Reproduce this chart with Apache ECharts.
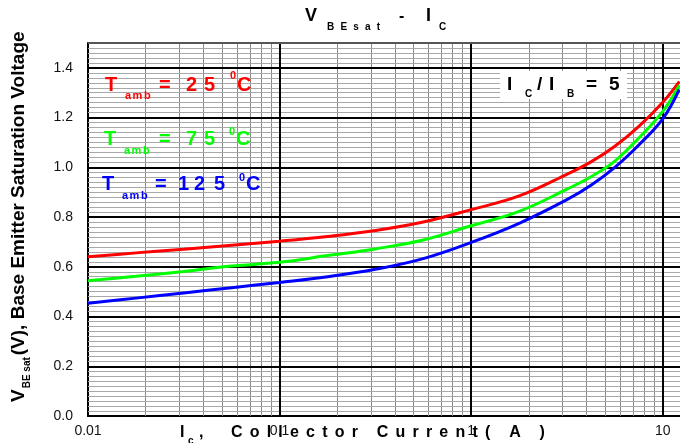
<!DOCTYPE html>
<html><head><meta charset="utf-8">
<script src="https://cdn.jsdelivr.net/npm/echarts@6/dist/echarts.min.js"></script>
<style>html,body{margin:0;padding:0;background:#fff}#c{width:680px;height:443px}</style>
</head><body><div id="c"></div>
<script>
// ---- data ----
const currentA = [0.01, 0.0178, 0.0316, 0.0562, 0.1, 0.178, 0.316, 0.562, 1, 1.78, 3.16, 4.22, 5.62, 7.5, 10, 12.2];
const vbe25  = [0.640, 0.656, 0.671, 0.687, 0.703, 0.722, 0.746, 0.780, 0.830, 0.885, 0.972, 1.022, 1.085, 1.165, 1.262, 1.345];
const vbe75  = [0.544, 0.562, 0.581, 0.603, 0.618, 0.645, 0.672, 0.708, 0.765, 0.823, 0.912, 0.962, 1.025, 1.118, 1.225, 1.330];
const vbe125 = [0.453, 0.474, 0.495, 0.516, 0.537, 0.560, 0.590, 0.633, 0.698, 0.775, 0.870, 0.928, 1.000, 1.090, 1.195, 1.313];
const xTickLabels = ['0.01', '0.1', '1', '10'];
const yTickLabels = ['0.0', '0.2', '0.4', '0.6', '0.8', '1.0', '1.2', '1.4'];

const FONT = '"Liberation Sans", Arial, sans-serif';
const ctx = document.createElement('canvas').getContext('2d');
function mw(t, size) { ctx.font = 'bold ' + size + 'px ' + FONT; return ctx.measureText(t).width; }
function T(t, x, cy, size, color) {
  return { type: 'text', x: x, y: cy, z: 100,
    style: { text: t, font: 'bold ' + size + 'px ' + FONT, fill: color || '#000',
      align: 'left', verticalAlign: 'middle', textAlign: 'left', textVerticalAlign: 'middle' } };
}
function tracked(str, x, cy, size, color, tr) {
  const out = []; let cx = x;
  for (const ch of str) { if (ch !== ' ') out.push(T(ch, cx, cy, size, color)); cx += mw(ch, size) + tr; }
  return out;
}

// grid line positions (axis structure)
const xMax = 12.3, yMax = 1.5;
const vMinor = [], vMajor = [0.1, 1, 10];
[0.01, 0.1, 1, 10].forEach(d => { for (let k = 2; k <= 9; k++) { const v = +(d * k).toPrecision(3); if (v < xMax) vMinor.push(v); } });
const hMinor = [], hMajor = [];
for (let i = 1; i < 75; i++) { const v = +(i * 0.02).toFixed(2); if (i % 10 === 0) hMajor.push(v); else hMinor.push(v); }

function ml(data, color, width) {
  return { symbol: ['none', 'none'], silent: true, animation: false, label: { show: false },
    emphasis: { disabled: true }, lineStyle: { color: color, width: width, type: 'solid' }, data: data };
}
function dummy(z, mark) {
  return { type: 'line', data: [[0.01, 0]], symbol: 'none', lineStyle: { opacity: 0 }, silent: true, z: z, markLine: mark };
}
function curve(name, ys, color) {
  return { type: 'line', name: name, data: currentA.map((x, i) => [x, ys[i]]), smooth: 0.4,
    showSymbol: false, symbol: 'none', z: 10, lineStyle: { color: color, width: 3 }, itemStyle: { color: color } };
}

const red = '#ff0000', green = '#00ff00', blue = '#0000ff';

const graphics = [];
// title  V_BEsat - I_C
graphics.push(T('V', 305, 16.5, 18));
graphics.push(...tracked('BEsat', 327, 27, 10, '#000', 6.2));
graphics.push(T('-', 399, 16.5, 16));
graphics.push(T('I', 426, 16.5, 18));
graphics.push(T('C', 439, 27, 10));

// legend labels
function tRow(cy, subCy, supCy, color, tX, ambX, eqX, digits, supX, cX) {
  graphics.push(T('T', tX, cy, 20, color));
  graphics.push(...tracked('amb', ambX, subCy, 11, color, 1.5));
  graphics.push(T('=', eqX, cy, 20, color));
  digits.forEach(d => graphics.push(T(d[0], d[1], cy, 20, color)));
  graphics.push(T('0', supX, supCy, 11, color));
  graphics.push(T('C', cX, cy, 20, color));
}
tRow(85.5, 96, 76, red, 105, 125, 159, [['2', 186], ['5', 204]], 230, 237);
tRow(139.5, 150.5, 132, green, 104, 124, 159, [['7', 186], ['5', 204]], 229, 236);
tRow(184.5, 196, 177.5, blue, 102, 122, 155, [['1', 178], ['2', 194], ['5', 214]], 239, 246);

// Ic/Ib box
graphics.push({ type: 'rect', z: 99, shape: { x: 500, y: 71, width: 127, height: 28 }, style: { fill: '#fff' } });
graphics.push(T('I', 507, 85, 19));
graphics.push(T('C', 525, 94, 10));
graphics.push(T('/', 537, 85, 19));
graphics.push(T('I', 549, 85, 19));
graphics.push(T('B', 567, 94, 10));
graphics.push(T('=', 586, 85, 19));
graphics.push(T('5', 609, 85, 19));

// x axis title
graphics.push(T('I', 180, 433, 16));
graphics.push(T('c', 188, 441, 10));
graphics.push(T(',', 199, 433, 16));
graphics.push(...tracked('Collector Current( A )', 231, 433, 16, '#000', 7.2));

// y axis title (rotated)
(function () {
  const kids = [];
  let lx = 0;
  kids.push(T('V', lx, 0, 19)); lx += mw('V', 19) + 1;
  kids.push(T('BE sat', lx, 9, 10)); lx += mw('BE sat', 10) + 2;
  kids.push(T('(V), Base Emitter Saturation Voltage', lx, 0, 19));
  graphics.push({ type: 'group', x: 18.5, y: 402, rotation: Math.PI / 2, z: 100, children: kids });
})();

const chart = echarts.init(document.getElementById('c'), null, { renderer: 'canvas' });
chart.setOption({
  animation: false,
  backgroundColor: '#fff',
  grid: { left: 88, right: 0, top: 43, bottom: 27, containLabel: false, outerBoundsMode: 'none' },
  xAxis: {
    type: 'log', logBase: 10, min: 0.01, max: xMax,
    axisLine: { show: true, onZero: false, lineStyle: { color: '#000', width: 2 } },
    axisTick: { show: false }, splitLine: { show: false }, minorTick: { show: false }, minorSplitLine: { show: false },
    axisLabel: {
      show: true, margin: 8, color: '#111', fontFamily: FONT, fontSize: 14, showMaxLabel: false,
      formatter: function (v) {
        const l = Math.log10(v), r = Math.round(l);
        if (Math.abs(l - r) < 1e-6 && r >= -2 && r <= 1) return xTickLabels[r + 2];
        return '';
      }
    }
  },
  yAxis: {
    type: 'value', min: 0, max: yMax, interval: 0.2,
    axisLine: { show: true, lineStyle: { color: '#000', width: 2 } },
    axisTick: { show: false }, splitLine: { show: false },
    axisLabel: {
      margin: 15, color: '#111', fontFamily: FONT, fontSize: 14, showMaxLabel: false,
      formatter: function (v) { const i = Math.round(v / 0.2); return (Math.abs(v - i * 0.2) < 1e-6 && i < yTickLabels.length) ? yTickLabels[i] : ''; }
    }
  },
  series: [
    dummy(1, ml(vMinor.map(v => ({ xAxis: v })), '#8a8a8a', 1)),
    dummy(2, ml(hMinor.map(v => ({ yAxis: v })), '#a8a8a8', 1)),
    dummy(3, ml(vMajor.map(v => ({ xAxis: v })), '#000', 2)),
    dummy(4, ml(hMajor.map(v => ({ yAxis: v })).concat([{ yAxis: yMax, lineStyle: { color: '#555', width: 2 } }]), '#000', 2)),
    curve('25', vbe25, red),
    curve('75', vbe75, green),
    curve('125', vbe125, blue)
  ],
  graphic: { elements: graphics }
});
</script>
</body></html>
